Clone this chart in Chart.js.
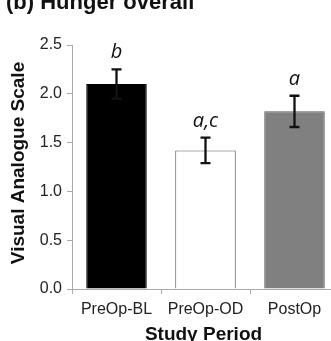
<!DOCTYPE html>
<html>
<head>
<meta charset="utf-8">
<script src="https://cdn.jsdelivr.net/npm/chart.js@4"></script>
<style>
  html, body { margin: 0; padding: 0; overflow: hidden; background: #fff; }
  #wrap { position: absolute; left: 0; top: 0; }
</style>
</head>
<body>
<div id="wrap"><canvas id="hungerChart" width="340" height="341"></canvas></div>
<script>
// study periods and mean VAS scores
var periods = ["PreOp-BL", "PreOp-OD", "PostOp"];
var vasMean = [2.10, 1.42, 1.82];
var vasErr = [0.15, 0.13, 0.16];
var sigLabels = ["b", "a,c", "a"];
var yTicks = [0.0, 0.5, 1.0, 1.5, 2.0, 2.5];

var barColors = ["#000000", "#ffffff", "#808080"];
var barBorders = ["#000000", "#555555", "#5a5a5a"];

// error bars, significance letters, axis titles and the clipped panel title
const extras = {
    id: "extras",
    afterDatasetsDraw: function(chart) {
        var ctx = chart.ctx;
        var y = chart.scales.y;
        var area = chart.chartArea;
        var meta = chart.getDatasetMeta(0);
        ctx.save();
        ctx.strokeStyle = "#111";
        ctx.lineWidth = 2.3;
        for (let i = 0; i < vasMean.length; i++) {
            var x = meta.data[i].x;
            var top = y.getPixelForValue(vasMean[i] + vasErr[i]);
            var bot = y.getPixelForValue(vasMean[i] - vasErr[i]);
            ctx.beginPath();
            ctx.moveTo(x, top); ctx.lineTo(x, bot);
            ctx.moveTo(x - 5, top); ctx.lineTo(x + 5, top);
            ctx.moveTo(x - 5, bot); ctx.lineTo(x + 5, bot);
            ctx.stroke();

            ctx.fillStyle = "#111";
            ctx.font = "italic 20px 'Open Sans'";
            ctx.textAlign = "center";
            ctx.textBaseline = "alphabetic";
            ctx.fillText(sigLabels[i], x, top - 11);
        }

        ctx.fillStyle = "#111";
        ctx.font = "bold 22px 'Liberation Sans', Arial";
        ctx.textAlign = "left";
        ctx.fillText("(b) Hunger overall", 6, 9);

        ctx.font = "bold 19px 'Liberation Sans', Arial";
        ctx.textAlign = "center";
        ctx.fillText("Study Period", (area.left + area.right) / 2 - 2, 340);

        ctx.translate(18.5, 163);
        ctx.rotate(-Math.PI / 2);
        ctx.textBaseline = "middle";
        ctx.fillText("Visual Analogue Scale", 0, 0);
        ctx.restore();
    }
};

var chart = new Chart(document.getElementById("hungerChart").getContext("2d"), {
    type: "bar",
    data: {
        labels: periods,
        datasets: [{
            data: vasMean,
            backgroundColor: barColors,
            borderColor: barBorders,
            borderWidth: 1,
            categoryPercentage: 1,
            barPercentage: 0.68
        }]
    },
    options: {
        responsive: false,
        animation: false,
        layout: {
            padding: { top: 45, right: 1, left: 0, bottom: 0 }
        },
        plugins: {
            legend: { display: false },
            tooltip: { enabled: false }
        },
        scales: {
            x: {
                afterFit: function(s) { s.height = 52; },
                grid: { drawOnChartArea: false, color: "#aaaaaa", tickLength: 5 },
                border: { color: "#aaaaaa" },
                ticks: {
                    color: "#222",
                    padding: 6,
                    font: { family: "'Liberation Sans', Arial", size: 16 }
                }
            },
            y: {
                min: 0,
                max: 2.5,
                afterFit: function(s) { s.width = 72; },
                afterBuildTicks: function(s) {
                    s.ticks = yTicks.map(function(v) { return { value: v }; });
                },
                grid: { drawOnChartArea: false, color: "#aaaaaa", tickLength: 5 },
                border: { color: "#aaaaaa" },
                ticks: {
                    color: "#222",
                    padding: 5,
                    font: { family: "'Liberation Sans', Arial", size: 16 },
                    callback: function(v) { return Number(v).toFixed(1); }
                }
            }
        }
    },
    plugins: [extras]
});
</script>
</body>
</html>
